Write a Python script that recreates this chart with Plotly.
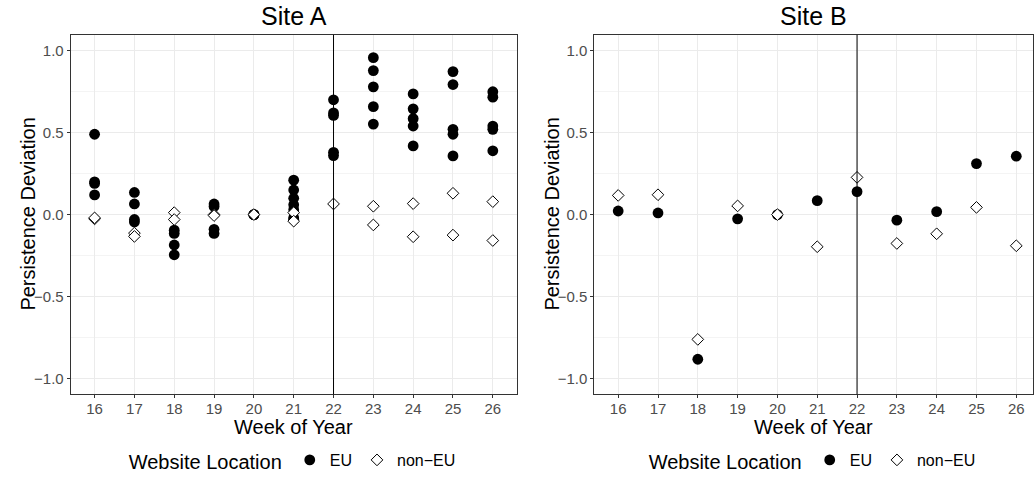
import plotly.graph_objects as go

weeks = [16, 17, 18, 19, 20, 21, 22, 23, 24, 25, 26]
week_labels = [str(w) for w in weeks]

# Site A (several websites per week)
siteA_eu = {
    16: [0.49, 0.20, 0.19, 0.12],
    17: [0.135, 0.065, -0.03, -0.045],
    18: [-0.095, -0.115, -0.185, -0.245],
    19: [0.065, 0.05, -0.09, -0.115],
    20: [0.0, 0.0, 0.0],
    21: [0.21, 0.15, 0.10, 0.06, 0.03, -0.02, -0.03],
    22: [0.70, 0.62, 0.605, 0.38, 0.36],
    23: [0.957, 0.878, 0.779, 0.658, 0.552],
    24: [0.736, 0.645, 0.585, 0.54, 0.419],
    25: [0.872, 0.793, 0.52, 0.49, 0.358],
    26: [0.749, 0.716, 0.54, 0.52, 0.389],
}
siteA_noneu = {
    16: [-0.026, -0.02],
    17: [-0.113, -0.133],
    18: [0.012, -0.03],
    19: [0.0, -0.006],
    20: [0.0],
    21: [0.012, -0.04],
    22: [0.065],
    23: [0.051, -0.063],
    24: [0.067, -0.135],
    25: [0.13, -0.125],
    26: [0.079, -0.158],
}

# Site B (one value per week)
siteB_eu = [0.022, 0.010, -0.882, -0.026, 0.0, 0.085, 0.14, -0.034, 0.018, 0.311, 0.356]
siteB_noneu = [0.117, 0.121, -0.761, 0.053, 0.0, -0.196, 0.227, -0.176, -0.117, 0.044, -0.19]

cutoff_week = 22

W, H = 1034, 479
FONT = "Liberation Sans, Arial, sans-serif"


def flatten(d):
    xs, ys = [], []
    for w in weeks:
        for v in d.get(w, []):
            xs.append(w)
            ys.append(v)
    return xs, ys


eu_style = dict(symbol="circle", size=10.8, color="black", line=dict(width=0))
noneu_style = dict(symbol="diamond", size=9, color="white", line=dict(width=1, color="black"))

fig = go.Figure()
xa, ya = flatten(siteA_eu)
fig.add_trace(go.Scatter(x=xa, y=ya, mode="markers", marker=eu_style, name="EU",
                         xaxis="x", yaxis="y", legend="legend"))
xa, ya = flatten(siteA_noneu)
fig.add_trace(go.Scatter(x=xa, y=ya, mode="markers", marker=noneu_style, name="non\u2212EU",
                         xaxis="x", yaxis="y", legend="legend"))
fig.add_trace(go.Scatter(x=weeks, y=siteB_eu, mode="markers", marker=eu_style, name="EU",
                         xaxis="x2", yaxis="y2", legend="legend2"))
fig.add_trace(go.Scatter(x=weeks, y=siteB_noneu, mode="markers", marker=noneu_style, name="non\u2212EU",
                         xaxis="x2", yaxis="y2", legend="legend2"))

xA = [70.7 / W, 516.7 / W]
xB = [594.3 / W, 1033.0 / W]
yD = [1 - 396 / H, 1 - 35 / H]

common_x = dict(
    tickmode="array", tickvals=weeks, ticktext=week_labels,
    showgrid=True, gridcolor="#ebebeb", gridwidth=1,
    zeroline=False, showline=True, linecolor="#333333", linewidth=1, mirror=True,
    ticks="outside", ticklen=3, tickcolor="#333333", tickwidth=1,
    tickfont=dict(family=FONT, size=15, color="#4d4d4d"),
    ticklabelstandoff=-2,
    fixedrange=True,
)
common_y = dict(
    range=[-1.096, 1.096], tickmode="array", tickvals=[-1, -0.5, 0, 0.5, 1],
    ticktext=["\u22121.0", "\u22120.5", "0.0", "0.5", "1.0"],
    showgrid=True, gridcolor="#ebebeb", gridwidth=1,
    minor=dict(tickvals=[-0.75, -0.25, 0.25, 0.75], showgrid=True, gridcolor="#f4f4f4", gridwidth=0.6, ticks=""),
    zeroline=False, showline=True, linecolor="#333333", linewidth=1, mirror=True,
    ticks="outside", ticklen=3, tickcolor="#333333", tickwidth=1,
    tickfont=dict(family=FONT, size=15, color="#4d4d4d"),
    fixedrange=True,
)

legend_common = dict(
    orientation="h", xanchor="center", yanchor="middle", y=1 - 463 / H,
    title=dict(text="Website Location", side="left", font=dict(family=FONT, size=20, color="black")),
    font=dict(family=FONT, size=16, color="black"),
    bgcolor="rgba(0,0,0,0)", itemwidth=30, tracegroupgap=0,
)

fig.update_layout(
    width=W, height=H, margin=dict(l=0, r=0, t=0, b=0),
    paper_bgcolor="white", plot_bgcolor="white",
    xaxis=dict(common_x, domain=xA, range=[15.4, 26.6], anchor="y"),
    yaxis=dict(common_y, domain=yD, anchor="x"),
    xaxis2=dict(common_x, domain=xB, range=[15.4, 26.42], anchor="y2"),
    yaxis2=dict(common_y, domain=yD, anchor="x2"),
    legend=dict(legend_common, x=(xA[0] + xA[1]) / 2),
    legend2=dict(legend_common, x=(xB[0] + xB[1]) / 2),
    showlegend=True,
)

for xr in ["x", "x2"]:
    fig.add_shape(type="line", xref=xr, yref="y domain" if xr == "x" else "y2 domain",
                  x0=cutoff_week, x1=cutoff_week, y0=0, y1=1,
                  line=dict(color="black", width=1))

annots = [
    dict(text="Site A", x=(xA[0] + xA[1]) / 2, y=1 - 16 / H, size=25),
    dict(text="Site B", x=(xB[0] + xB[1]) / 2, y=1 - 16 / H, size=25),
    dict(text="Week of Year", x=(xA[0] + xA[1]) / 2, y=1 - 429 / H, size=20),
    dict(text="Week of Year", x=(xB[0] + xB[1]) / 2, y=1 - 429 / H, size=20),
]
for a in annots:
    fig.add_annotation(text=a["text"], x=a["x"], y=a["y"], xref="paper", yref="paper",
                       showarrow=False, xanchor="center", yanchor="middle",
                       font=dict(family=FONT, size=a["size"], color="black"))
for xpix in [28, 552]:
    fig.add_annotation(text="Persistence Deviation", x=xpix / W, y=(yD[0] + yD[1]) / 2,
                       xref="paper", yref="paper", showarrow=False, textangle=-90,
                       xanchor="center", yanchor="middle",
                       font=dict(family=FONT, size=20, color="black"))

fig.write_html("out.html", config={"displayModeBar": False},
               post_script="document.body.style.margin='0';")
